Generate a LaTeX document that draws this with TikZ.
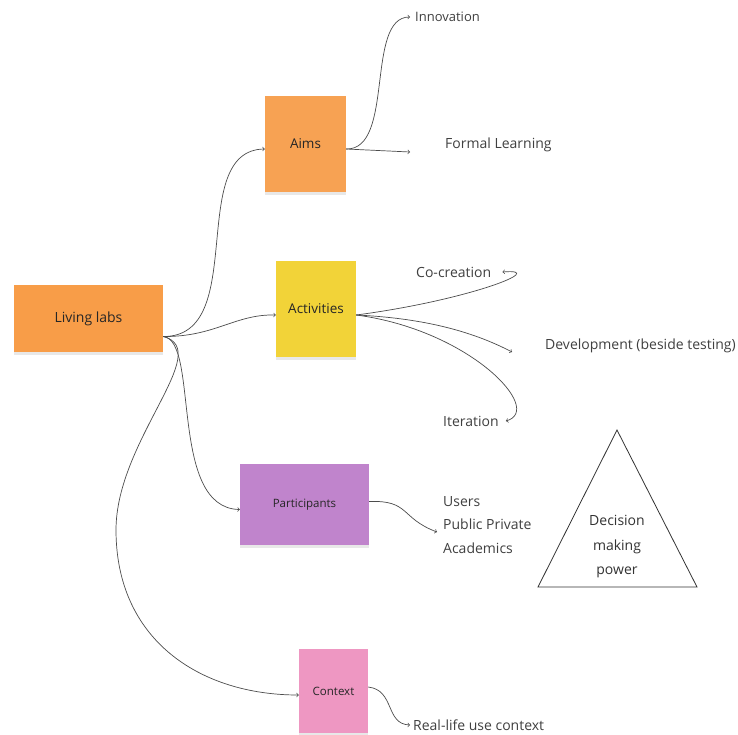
\documentclass[tikz,border=0pt]{standalone}
\usepackage{fontspec}
\setmainfont{Open Sans}
\usetikzlibrary{arrows, positioning, shadows}
\definecolor{labsorange}{HTML}{F89D48}
\definecolor{aimsorange}{HTML}{F7A253}
\definecolor{actyellow}{HTML}{F2D338}
\definecolor{partpurple}{HTML}{C084CC}
\definecolor{ctxpink}{HTML}{EE97C2}
\tikzstyle{arrow} = [line width=0.7pt,->,>=to,draw=black!70]
\tikzstyle{sticky} = [inner sep=0pt, text=black!85, drop shadow={opacity=0.18,shadow xshift=0pt,shadow yshift=-3pt}]
\tikzstyle{txt} = [inner sep=0pt, anchor=west, text=black!75, font=\fontsize{14}{16}\selectfont]

\begin{document}
\begin{tikzpicture}[x=1pt,y=-1pt]
        \useasboundingbox[fill=white] (0,0) rectangle (738,734);

        % sticky notes
        \node (LL) [sticky, fill=labsorange, minimum width=149pt, minimum height=67pt, font=\fontsize{14}{16}\selectfont] at (88.5,318.5) {Living labs};
        \node (aims) [sticky, fill=aimsorange, minimum width=81pt, minimum height=96pt, font=\fontsize{13.5}{16}\selectfont] at (305.5,144) {Aims};
        \node (act) [sticky, fill=actyellow, minimum width=80pt, minimum height=96pt, font=\fontsize{13.5}{16}\selectfont] at (316,309) {Activities};
        \node (part) [sticky, fill=partpurple, minimum width=129pt, minimum height=81pt, font=\fontsize{11.5}{14}\selectfont] at (304.5,504.5) {Participants};
        \node (ctx) [sticky, fill=ctxpink, minimum width=69pt, minimum height=84pt, font=\fontsize{11.5}{14}\selectfont] at (333.5,691) {Context};

        % texts
        \node (inno) [txt, font=\fontsize{13}{15}\selectfont] at (415,17) {Innovation};
        \node (formal) [txt] at (445,145) {Formal Learning};
        \node (cocreat) [txt] at (416,272) {Co-creation};
        \node (devel) [txt] at (545,346) {Development (beside testing)};
        \node (iter) [txt] at (443,421) {Iteration};
        \node (users) [txt, align=left, font=\fontsize{14}{23.5}\selectfont] at (443,525) {Users\\Public Private\\Academics};
        \node (reallife) [txt] at (413,725) {Real-life use context};

        % triangle
        \draw[black!80, thick] (617,430) -- (697,587) -- (538,587) -- cycle;
        \node (power) [align=center, text=black!80, font=\fontsize{14}{24.5}\selectfont] at (617,547) {Decision\\making\\power};

        \coordinate (hub) at ([yshift=-18pt]LL.east);

        \draw[arrow] (hub) .. controls (250,337) and (185,150) .. ([yshift=-5pt]aims.west);
        \draw[arrow] (hub) .. controls (215,337) and (235,314) .. ([yshift=-6pt]act.west);
        \draw[arrow] (hub) .. controls (200,340) and (168,508) .. ([yshift=-5pt]part.west);
        \draw[arrow] (hub) .. controls (215,350) and (116,440) .. (116,530) .. controls (116,640) and (200,695) .. ([yshift=-4pt]ctx.west);

        \draw[arrow] ([yshift=-5pt]aims.east) .. controls (395,150) and (365,17) .. ([xshift=-5pt]inno.west);
        \draw[arrow] ([yshift=-5pt]aims.east) -- ([xshift=-35pt,yshift=-7pt]formal.west);

        \draw[arrow] ([yshift=-6pt]act.east) .. controls (470,300) and (550,268) .. ([xshift=11pt]cocreat.east);
        \draw[arrow] ([yshift=-6pt]act.east) .. controls (420,318) and (470,330) .. ([xshift=-33pt,yshift=-6pt]devel.west);
        \draw[arrow] ([yshift=-6pt]act.east) .. controls (470,330) and (545,410) .. ([xshift=7pt]iter.east);

        \draw[arrow] ([yshift=3pt]part.east) .. controls (410,500) and (400,518) .. ([xshift=-6pt,yshift=-7pt]users.west);
        \draw[arrow] ([yshift=4pt]ctx.east) .. controls (395,690) and (385,724) .. ([xshift=-3pt]reallife.west);
\end{tikzpicture}
\end{document}
